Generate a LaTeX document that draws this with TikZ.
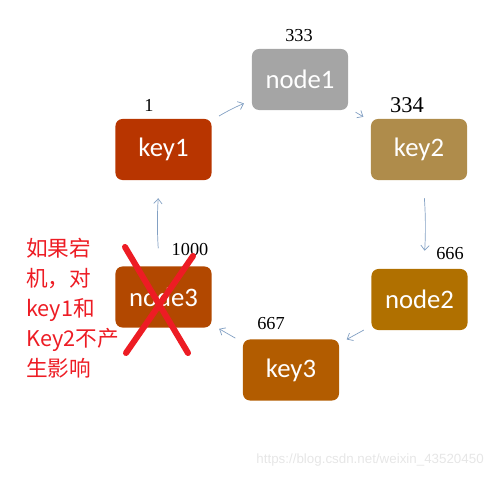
\documentclass[tikz,border=0pt]{standalone}
\usepackage{fontspec}
\usetikzlibrary{arrows.meta}
\setmainfont{Liberation Serif}
\newfontfamily\boxfont{Carlito}
\newfontfamily\cjk{Noto Sans CJK SC}
\newfontfamily\markfont{Liberation Sans}
\definecolor{grayA}{RGB}{165,165,165}
\definecolor{rustA}{RGB}{184,53,0}
\definecolor{khakiA}{RGB}{175,140,75}
\definecolor{amberA}{RGB}{176,112,0}
\definecolor{rustB}{RGB}{178,72,0}
\definecolor{amberB}{RGB}{178,92,0}
\definecolor{linkblue}{RGB}{130,160,195}
\definecolor{crossred}{RGB}{237,28,36}
\definecolor{markgray}{RGB}{230,230,230}
\tikzset{
  box/.style={rounded corners=5pt, minimum width=2.4cm, minimum height=1.525cm,
    inner sep=0pt, text=white, font=\boxfont\fontsize{19}{19}\selectfont},
  num/.style={inner sep=0pt, font=\fontsize{13}{13}\selectfont},
  link/.style={-{Straight Barb[length=3.5pt, width=6pt]}, draw=linkblue,
    line width=0.5pt, shorten <=6pt, shorten >=6pt},
  longlink/.style={link, shorten <=12.8pt, shorten >=12.8pt}
}
\begin{document}
\begin{tikzpicture}[x=0.025cm, y=-0.025cm]
                \useasboundingbox (0, 0) rectangle (493, 478);
                % ring of boxes
                \node[box, fill=grayA] (node1) at (300, 79.5) {node1};
                \node[box, fill=rustA] (key1) at (163.5, 149.5) {key1};
                \node[box, fill=khakiA] (key2) at (419, 149.5) {key2};
                \node[box, fill=amberA] (node2) at (419.5, 299.5) {node2};
                \node[box, fill=rustB] (node3) at (163.5, 297) {node3};
                \node[box, fill=amberB] (key3) at (291, 370) {key3};
                % hash values
                \node[num] (pos333) at (299, 36) {333};
                \node[num] (pos1) at (149, 105) {1};
                \node[num, font=\fontsize{16}{16}\selectfont] (pos334) at (407, 105) {334};
                \node[num] (pos666) at (450, 254) {666};
                \node[num] (pos1000) at (190, 250) {1000};
                \node[num] (pos667) at (271, 324) {667};
                % clockwise links
                \draw[link] (key1) to[bend left=4] (node1);
                \draw[link] (node1) -- (key2);
                \draw[longlink] ([xshift=0.1cm]key2.south) to[bend left=4] ([xshift=0.1cm]node2.north);
                \draw[link] (node2) -- (key3);
                \draw[link] (key3) -- (node3);
                \draw[longlink] ([xshift=-0.1cm]node3.north) to[bend left=4] ([xshift=-0.1cm]key1.south);
                % node3 is down
                \draw[crossred, line width=4.3pt, line cap=round] (125, 247) -- (188, 353);
                \draw[crossred, line width=4.3pt, line cap=round] (193, 256) -- (126, 353);
                \node[anchor=north west, align=left, inner sep=0pt, text=crossred,
                    font=\cjk\fontsize{15.4}{21.3}\selectfont] (note) at (26, 238)
                    {如果宕\\机，对\\key1和\\Key2不产\\生影响};
                \node[anchor=east, inner sep=0pt, text=markgray,
                    font=\markfont\fontsize{9.5}{9.5}\selectfont] (mark) at (484, 460)
                    {https://blog.csdn.net/weixin\_43520450};
            \end{tikzpicture}
\end{document}
